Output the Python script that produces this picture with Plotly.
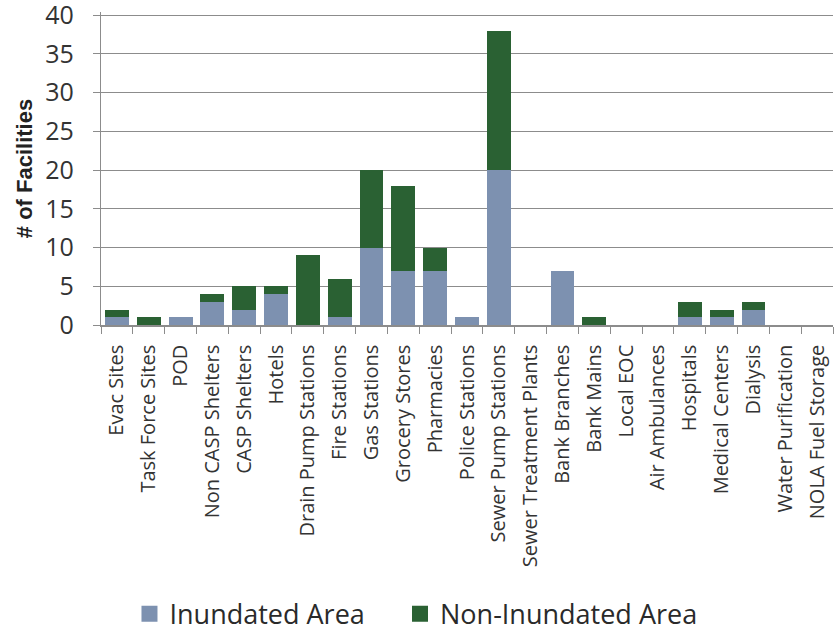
import plotly.graph_objects as go

categories = [
    "Evac Sites", "Task Force Sites", "POD", "Non CASP Shelters", "CASP Shelters",
    "Hotels", "Drain Pump Stations", "Fire Stations", "Gas Stations", "Grocery Stores",
    "Pharmacies", "Police Stations", "Sewer Pump Stations", "Sewer Treatment Plants",
    "Bank Branches", "Bank Mains", "Local EOC", "Air Ambulances", "Hospitals",
    "Medical Centers", "Dialysis", "Water Purification", "NOLA Fuel Storage",
]
inundated = [1, 0, 1, 3, 2, 4, 0, 1, 10, 7, 7, 1, 20, 0, 7, 0, 0, 0, 1, 1, 2, 0, 0]
non_inundated = [1, 1, 0, 1, 3, 1, 9, 5, 10, 11, 3, 0, 18, 0, 0, 1, 0, 0, 2, 1, 1, 0, 0]
y_ticks = [0, 5, 10, 15, 20, 25, 30, 35, 40]

FONT = "Open Sans"
BLUE = "#7d91b0"
GREEN = "#2a6133"
GRID = "#8c8c8c"

fig = go.Figure()
fig.add_trace(go.Bar(x=categories, y=inundated, name="Inundated Area",
                     marker=dict(color=BLUE, line=dict(width=0)), showlegend=False))
fig.add_trace(go.Bar(x=categories, y=non_inundated, name="Non-Inundated Area",
                     marker=dict(color=GREEN, line=dict(width=0)), showlegend=False))

# legend entries with larger square swatches, one legend box per series
for name, color, leg in [("Inundated Area", BLUE, "legend"),
                         ("Non-Inundated Area", GREEN, "legend2")]:
    fig.add_trace(go.Scatter(x=[None], y=[None], mode="markers", name=name, legend=leg,
                             marker=dict(symbol="square", size=16, color=color)))

legend_style = dict(orientation="h", xref="container", yref="container",
                    xanchor="left", y=0.022, yanchor="middle",
                    font=dict(size=27, family=FONT, color="#2a2a2a"),
                    itemwidth=30, bgcolor="rgba(0,0,0,0)")

fig.update_layout(
    barmode="stack",
    bargap=0.25,
    width=837, height=628,
    margin=dict(l=101, r=4, t=12, b=303, autoexpand=False),
    paper_bgcolor="white",
    plot_bgcolor="white",
    font=dict(family=FONT, color="#333333"),
    showlegend=True,
    legend=dict(x=0.1547, **legend_style),
    legend2=dict(x=0.4779, **legend_style),
    xaxis=dict(
        tickangle=-90,
        tickfont=dict(size=20, family=FONT, color="#333333"),
        showgrid=False, automargin=False,
        showline=True, linecolor=GRID, linewidth=1.5,
        ticks="outside", tickson="boundaries", ticklen=7, tickcolor=GRID,
        ticklabelstandoff=10,
    ),
    yaxis=dict(
        range=[0, 40.4],
        tickvals=y_ticks,
        tickfont=dict(size=25, family=FONT, color="#333333"),
        ticklabeloverflow="allow",
        showgrid=True, gridcolor=GRID, gridwidth=1.2,
        showline=True, linecolor=GRID, linewidth=1.2,
        ticks="outside", ticklen=7, tickcolor=GRID,
        ticklabelstandoff=14,
        zeroline=False, automargin=False,
        title=dict(text="<b># of Facilities</b>",
                   font=dict(size=22, family="Arial", color="#222222"),
                   standoff=6),
    ),
)

fig.write_html("out.html")
